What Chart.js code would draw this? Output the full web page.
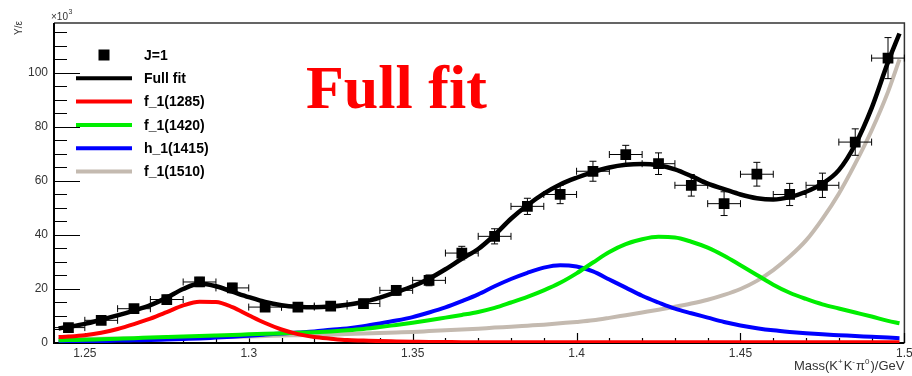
<!DOCTYPE html>
<html>
<head>
<meta charset="utf-8">
<script src="https://cdn.jsdelivr.net/npm/chart.js@4.4.1/dist/chart.umd.min.js"></script>
<style>
  html, body { margin: 0; padding: 0; background: #fff; }
</style>
</head>
<body>
<canvas id="massFit" width="912" height="376"></canvas>
<script>
// J=1 yield per bin (x10^3), bin centres in GeV
const binMass = [1.245, 1.255, 1.265, 1.275, 1.285, 1.295, 1.305, 1.315, 1.325, 1.335, 1.345, 1.355, 1.365,
  1.375, 1.385, 1.395, 1.405, 1.415, 1.425, 1.435, 1.445, 1.455, 1.465, 1.475, 1.485, 1.495]
const yieldJ1 = [5.7, 8.4, 12.7, 16.1, 22.6, 20.4, 13.3, 13.3, 13.7, 14.6, 19.5, 23.2, 33.3,
  39.5, 50.6, 55.0, 63.6, 69.8, 66.4, 58.4, 51.6, 62.5, 55.0, 58.4, 74.4, 105.5]
const yieldErr = [1.5, 1.5, 1.5, 1.6, 1.7, 1.7, 1.6, 1.6, 1.6, 1.6, 1.8, 2.0, 2.5,
  2.8, 3.0, 3.4, 3.7, 3.4, 4.0, 4.0, 4.4, 4.4, 4.1, 4.5, 4.9, 7.6]
const binHalfWidth = 0.005

// fit curves
const curveMass = [1.242, 1.245, 1.25, 1.255, 1.26, 1.265, 1.27, 1.275, 1.28, 1.285, 1.29, 1.295, 1.30, 1.305,
  1.31, 1.315, 1.32, 1.325, 1.33, 1.335, 1.34, 1.345, 1.35, 1.355, 1.36, 1.365, 1.37, 1.375, 1.38, 1.385,
  1.39, 1.395, 1.40, 1.405, 1.41, 1.415, 1.42, 1.425, 1.43, 1.435, 1.44, 1.445, 1.45, 1.455, 1.46, 1.465,
  1.47, 1.475, 1.48, 1.485, 1.49, 1.495, 1.4985]
const fullFit = [5.4, 6.0, 7.1, 8.6, 10.2, 12.0, 14.0, 16.8, 20.0, 21.9, 21.0, 19.0, 17.0, 15.2,
  14.0, 13.4, 13.2, 13.5, 14.2, 15.2, 16.8, 18.8, 21.0, 23.8, 27.3, 31.2, 34.8, 40.0, 46.0, 51.0,
  55.3, 58.7, 61.2, 63.3, 65.0, 66.0, 66.3, 65.8, 64.3, 61.8, 59.0, 57.0, 55.0, 53.6, 53.1, 54.0,
  56.0, 59.0, 64.0, 73.5, 87.0, 104.0, 114.6]
const f1_1285 = [2.2, 2.4, 2.9, 3.8, 5.2, 7.0, 9.0, 11.4, 13.9, 15.3, 15.2, 13.3, 10.3, 7.4,
  5.0, 3.3, 2.2, 1.6, 1.1, 0.9, 0.7, 0.6, 0.5, 0.4, 0.35, 0.3, 0.3, 0.3, 0.3, 0.3,
  0.3, 0.3, 0.3, 0.25, 0.25, 0.25, 0.25, 0.25, 0.25, 0.25, 0.25, 0.25, 0.25, 0.25, 0.25, 0.25,
  0.25, 0.25, 0.25, 0.25, 0.25, 0.25, 0.25]
const f1_1420 = [1.0, 1.1, 1.2, 1.4, 1.6, 1.8, 2.0, 2.2, 2.4, 2.6, 2.8, 3.0, 3.2, 3.4,
  3.6, 3.8, 4.0, 4.3, 4.7, 5.2, 5.9, 6.7, 7.5, 8.4, 9.4, 10.4, 11.5, 13.0, 15.0, 17.1,
  19.5, 22.3, 25.8, 29.8, 33.7, 36.6, 38.4, 39.3, 39.1, 37.5, 35.3, 32.3, 28.8, 25.2, 21.6, 18.6,
  16.3, 14.3, 12.8, 11.3, 9.8, 8.2, 7.3]
const h1_1415 = [0.3, 0.4, 0.5, 0.7, 0.9, 1.0, 1.1, 1.3, 1.5, 1.7, 2.0, 2.3, 2.7, 3.1,
  3.5, 3.9, 4.3, 4.9, 5.4, 6.2, 7.2, 8.3, 9.6, 11.3, 13.2, 15.5, 18.0, 21.0, 23.7, 26.0,
  27.9, 28.8, 28.3, 26.5, 23.5, 20.5, 17.5, 15.0, 12.7, 11.0, 9.4, 7.8, 6.5, 5.5, 4.7, 4.1,
  3.6, 3.2, 2.9, 2.6, 2.3, 2.0, 1.8]
const f1_1510 = [1.5, 1.5, 1.6, 1.6, 1.7, 1.7, 1.8, 1.9, 2.0, 2.1, 2.2, 2.3, 2.4, 2.6,
  2.8, 2.9, 3.0, 3.1, 3.3, 3.5, 3.7, 3.9, 4.1, 4.4, 4.7, 5.0, 5.3, 5.7, 6.0, 6.4,
  6.8, 7.3, 7.8, 8.4, 9.3, 10.3, 11.3, 12.3, 13.4, 14.6, 16.0, 17.8, 20.0, 23.0, 27.0, 32.0,
  38.0, 46.0, 55.3, 66.4, 78.7, 93.0, 105.0]

const xTickValues = [1.25, 1.3, 1.35, 1.4, 1.45, 1.5]
const yTickValues = [0, 20, 40, 60, 80, 100]
const xMinorStep = 0.01
const yMinorStep = 5

const sans = '"Liberation Sans", Arial, sans-serif'
const pts = (xs, ys) => xs.map((v, i) => ({x: v, y: ys[i]}))
const curve = (label, ys, color, width, order) => ({
  label, data: pts(curveMass, ys), showLine: true, borderColor: color, backgroundColor: color,
  borderWidth: width, pointRadius: 0, cubicInterpolationMode: 'monotone', order
})

const rootDecor = {
  id: 'rootDecor',
  beforeDatasetsDraw(chart) {
    const {ctx, chartArea: a, scales: {x, y}} = chart
    ctx.save()
    // frame
    ctx.strokeStyle = '#333'
    ctx.lineWidth = 1.5
    ctx.beginPath()
    ctx.moveTo(a.left, a.top); ctx.lineTo(a.right, a.top); ctx.lineTo(a.right, a.bottom)
    ctx.stroke()
    ctx.strokeStyle = '#000'
    ctx.lineWidth = 2
    ctx.beginPath()
    ctx.moveTo(a.left, a.top); ctx.lineTo(a.left, a.bottom); ctx.lineTo(a.right, a.bottom)
    ctx.stroke()
    // ticks, pointing inwards
    ctx.lineWidth = 1.2
    ctx.beginPath()
    for (let v = 0; v <= y.max + 1e-9; v += yMinorStep) {
      const py = Math.round(y.getPixelForValue(v)) + 0.5
      const len = yTickValues.includes(v) ? 26 : 13
      ctx.moveTo(a.left, py); ctx.lineTo(a.left + len, py)
    }
    for (let k = 125; k <= 150; k++) {
      const v = k * xMinorStep
      if (v < x.min) continue
      const px = Math.round(x.getPixelForValue(v)) + 0.5
      const len = k % 5 === 0 ? 10 : 5
      ctx.moveTo(px, a.bottom); ctx.lineTo(px, a.bottom - len)
    }
    ctx.stroke()
    ctx.restore()
  },
  afterDatasetsDraw(chart) {
    const {ctx, chartArea: a, scales: {x, y}} = chart
    ctx.save()
    ctx.beginPath()
    ctx.rect(a.left, a.top - 10, a.right - a.left + 10, a.bottom - a.top + 10)
    ctx.clip()
    ctx.strokeStyle = '#000'
    ctx.lineWidth = 1
    ctx.beginPath()
    binMass.forEach((m, i) => {
      const px = x.getPixelForValue(m), py = y.getPixelForValue(yieldJ1[i])
      const x0 = x.getPixelForValue(m - binHalfWidth), x1 = x.getPixelForValue(m + binHalfWidth)
      const y0 = y.getPixelForValue(yieldJ1[i] - yieldErr[i]), y1 = y.getPixelForValue(yieldJ1[i] + yieldErr[i])
      ctx.moveTo(x0, py); ctx.lineTo(x1, py)
      ctx.moveTo(x0, py - 3.5); ctx.lineTo(x0, py + 3.5)
      ctx.moveTo(x1, py - 3.5); ctx.lineTo(x1, py + 3.5)
      ctx.moveTo(px, y0); ctx.lineTo(px, y1)
      ctx.moveTo(px - 3.5, y0); ctx.lineTo(px + 3.5, y0)
      ctx.moveTo(px - 3.5, y1); ctx.lineTo(px + 3.5, y1)
    })
    ctx.stroke()
    ctx.restore()
  },
  afterDraw(chart) {
    const {ctx} = chart
    ctx.save()
    // legend, same order as the datasets
    ctx.textBaseline = 'middle'
    ctx.textAlign = 'left'
    ctx.font = 'bold 14px ' + sans
    chart.data.datasets.forEach((ds, i) => {
      const ry = 55 + i * 23.3
      if (ds.showLine) {
        ctx.strokeStyle = ds.borderColor
        ctx.lineWidth = 4
        ctx.beginPath(); ctx.moveTo(76, ry); ctx.lineTo(132, ry); ctx.stroke()
      } else {
        ctx.fillStyle = '#000'
        ctx.fillRect(98.5, ry - 5.5, 11, 11)
      }
      ctx.fillStyle = '#000'
      ctx.fillText(ds.label, 144, ry + 1)
    })
    // big red label
    ctx.fillStyle = '#ff0000'
    ctx.textBaseline = 'alphabetic'
    ctx.font = 'bold 62px "Liberation Serif", "Times New Roman", serif'
    ctx.fillText('Full fit', 306, 108)
    // exponent
    ctx.fillStyle = '#333'
    ctx.font = '10px ' + sans
    ctx.fillText('\u00d710', 51, 20)
    const ew = ctx.measureText('\u00d710').width
    ctx.font = '7px ' + sans
    ctx.fillText('3', 51 + ew + 0.5, 14)
    // y title
    ctx.save()
    ctx.translate(19, 28)
    ctx.rotate(-Math.PI / 2)
    ctx.textAlign = 'center'
    ctx.textBaseline = 'middle'
    ctx.font = '10px ' + sans
    ctx.fillText('Y/\u03b5', 0, 0)
    ctx.restore()
    // x title with superscripts, right aligned to the frame
    const parts = [['Mass(K', 0], ['+', 1], ['K', 0], ['-', 1], ['\u03c0', 0], ['0', 1], [')/GeV', 0]]
    const fnt = s => (s ? '8px ' : '13px ') + sans
    let w = 0
    parts.forEach(p => { ctx.font = fnt(p[1]); w += ctx.measureText(p[0]).width + (p[1] ? 1 : 0) })
    let cx = chart.chartArea.right - w
    parts.forEach(p => {
      ctx.font = fnt(p[1])
      ctx.fillText(p[0], cx, p[1] ? 364 : 370)
      cx += ctx.measureText(p[0]).width + (p[1] ? 1 : 0)
    })
    ctx.restore()
  }
}

new Chart(document.getElementById('massFit'), {
  type: 'scatter',
  data: {
    datasets: [
      {label: 'J=1', data: pts(binMass, yieldJ1), showLine: false, pointStyle: 'rect', pointRadius: 7.6,
        backgroundColor: '#000', borderColor: '#000', borderWidth: 0, order: 0},
      curve('Full fit', fullFit, '#000000', 4.5, 1),
      curve('f_1(1285)', f1_1285, '#ff0000', 4, 2),
      curve('f_1(1420)', f1_1420, '#00ee00', 4, 3),
      curve('h_1(1415)', h1_1415, '#0000ff', 4, 4),
      curve('f_1(1510)', f1_1510, '#c4bab0', 4, 5)
    ]
  },
  options: {
    responsive: false,
    animation: false,
    events: [],
    layout: {padding: {top: 23, right: 6, left: 0, bottom: 0}},
    plugins: {legend: {display: false}, tooltip: {enabled: false}},
    scales: {
      x: {
        type: 'linear', min: 1.2406, max: 1.5,
        grid: {display: false, drawTicks: false}, border: {display: false},
        afterBuildTicks: s => { s.ticks = xTickValues.map(v => ({value: v})) },
        afterFit: s => { s.height = 33; s.paddingLeft = 0; s.paddingRight = 0 },
        ticks: {padding: 3, color: '#333', font: {family: sans, size: 12},
          callback: v => String(+v.toFixed(2))}
      },
      y: {
        type: 'linear', min: 0, max: 118.5,
        grid: {display: false, drawTicks: false}, border: {display: false},
        afterBuildTicks: s => { s.ticks = yTickValues.map(v => ({value: v})) },
        afterFit: s => { s.width = 54; s.paddingTop = 0; s.paddingBottom = 0 },
        ticks: {padding: 6, color: '#333', font: {family: sans, size: 12}}
      }
    }
  },
  plugins: [rootDecor]
})
</script>
</body>
</html>
